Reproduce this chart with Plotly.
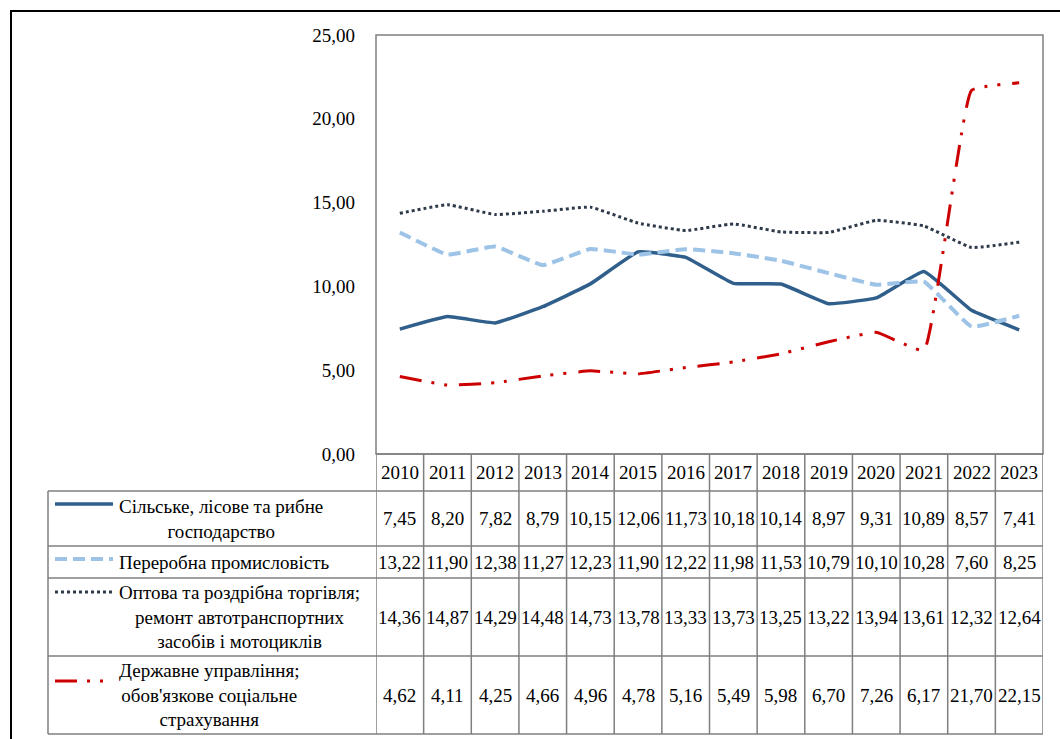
import plotly.graph_objects as go

W, H = 1060, 739

years = [str(y) for y in range(2010, 2024)]
names = [
    "Сільське, лісове та рибне<br>господарство",
    "Переробна промисловість",
    "Оптова та роздрібна торгівля;<br>ремонт автотранспортних<br>засобів і мотоциклів",
    "Державне управління;<br>обов'язкове соціальне<br>страхування",
]
agri = [7.45, 8.20, 7.82, 8.79, 10.15, 12.06, 11.73, 10.18, 10.14, 8.97, 9.31, 10.89, 8.57, 7.41]
manuf = [13.22, 11.90, 12.38, 11.27, 12.23, 11.90, 12.22, 11.98, 11.53, 10.79, 10.10, 10.28, 7.60, 8.25]
trade = [14.36, 14.87, 14.29, 14.48, 14.73, 13.78, 13.33, 13.73, 13.25, 13.22, 13.94, 13.61, 12.32, 12.64]
gov = [4.62, 4.11, 4.25, 4.66, 4.96, 4.78, 5.16, 5.49, 5.98, 6.70, 7.26, 6.17, 21.70, 22.15]
y_ticks = [0, 5, 10, 15, 20, 25]

series = [agri, manuf, trade, gov]
colors = ["#2F5F8A", "#9DC3E6", "#2E3A4A", "#CC0000"]
widths = [3.5, 4, 3, 3]
dashes = ["solid", "12px,6px", "3px,3px", "22px,10px,3px,10px,3px,12px"]

FONT = "Liberation Serif, Times New Roman, serif"
FS = 19


def fx(px):
    return px / W


def fy(py):
    return 1 - py / H


PL, PR, PT, PB = 376, 1043, 35, 454
TL = 48
row_lines = [454, 491, 546, 578, 656, 734]
row_centers = [518.5, 562, 617, 695]
key_y = [504, 559, 592, 681]

fig = go.Figure()
for s, c, w, d, n in zip(series, colors, widths, dashes, names):
    fig.add_trace(go.Scatter(
        x=years, y=s, mode="lines", name=n.replace("<br>", " "),
        line=dict(color=c, width=w, dash=d, shape="spline", smoothing=0.3),
        hoverinfo="x+y",
    ))

shapes = []
GRAY = "#7F7F7F"
# outer frame
shapes.append(dict(type="rect", xref="paper", yref="paper", x0=fx(11), x1=1.05,
                   y0=fy(11), y1=-0.05, line=dict(color="black", width=2)))
# plot border
shapes.append(dict(type="rect", xref="paper", yref="paper", x0=fx(PL), x1=fx(PR),
                   y0=fy(PT), y1=fy(PB), line=dict(color=GRAY, width=1.5)))
# table horizontal lines
for i, ry in enumerate(row_lines):
    x0 = PL if i == 0 else TL
    shapes.append(dict(type="line", xref="paper", yref="paper", x0=fx(x0), x1=fx(PR),
                       y0=fy(ry), y1=fy(ry), line=dict(color=GRAY, width=1.5)))
# table vertical lines
shapes.append(dict(type="line", xref="paper", yref="paper", x0=fx(TL), x1=fx(TL),
                   y0=fy(491), y1=fy(734), line=dict(color=GRAY, width=1.5)))
for i in range(len(years) + 1):
    shapes.append(dict(type="line", xref="x", yref="paper", x0=i - 0.5, x1=i - 0.5,
                       y0=fy(454), y1=fy(734), line=dict(color=GRAY, width=1.5)))
# legend keys
for c, w, d, ky in zip(colors, widths, dashes, key_y):
    shapes.append(dict(type="line", xref="paper", yref="paper", x0=fx(55), x1=fx(113),
                       y0=fy(ky), y1=fy(ky), line=dict(color=c, width=w, dash=d)))

ann = []
for i, yr in enumerate(years):
    ann.append(dict(x=i, xref="x", y=fy(472.5), yref="paper", text=yr, showarrow=False,
                    font=dict(family=FONT, size=FS, color="black"), xanchor="center", yanchor="middle"))
for s, rc in zip(series, row_centers):
    for i, v in enumerate(s):
        ann.append(dict(x=i, xref="x", y=fy(rc), yref="paper",
                        text=f"{v:.2f}".replace(".", ","), showarrow=False,
                        font=dict(family=FONT, size=FS, color="black"),
                        xanchor="center", yanchor="middle"))
for n, rc in zip(names, row_centers):
    ann.append(dict(x=fx(117), xref="paper", y=fy(rc), yref="paper", text=n, showarrow=False,
                    align="center", xanchor="left", yanchor="middle",
                    font=dict(family=FONT, size=FS, color="black")))

fig.update_layout(
    width=W, height=H, margin=dict(l=0, r=0, t=0, b=0, pad=0, autoexpand=False),
    paper_bgcolor="white", plot_bgcolor="white",
    showlegend=False, separators=", ",
    shapes=shapes, annotations=ann,
    xaxis=dict(domain=[fx(PL), fx(PR)], range=[-0.5, 13.5], visible=False, type="category",
               automargin=False),
    yaxis=dict(domain=[fy(PB), fy(PT)], range=[0, 25], tickvals=y_ticks, tickformat=".2f",
               showgrid=False, zeroline=False, showline=False, ticks="",
               ticklabelstandoff=20, automargin=False,
               tickfont=dict(family=FONT, size=FS, color="black")),
)

fig.write_html("out.html", config={"displayModeBar": False},
               post_script="document.body.style.margin='0';document.body.style.overflow='hidden';")
